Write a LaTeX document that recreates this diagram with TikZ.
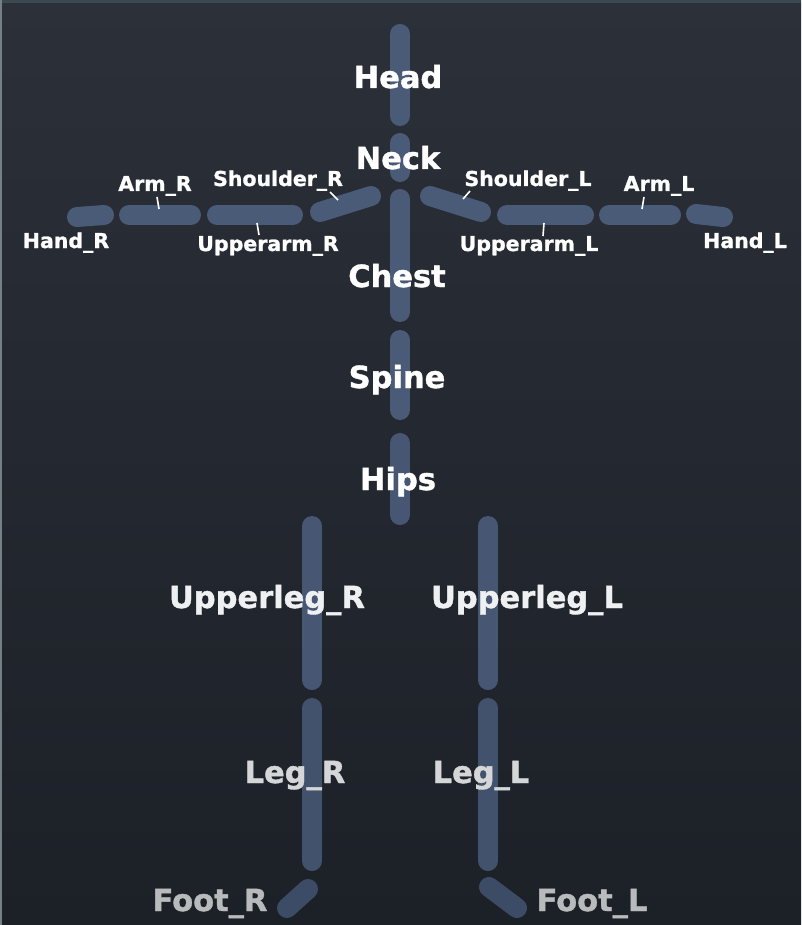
\documentclass[tikz,border=0pt]{standalone}
\usepackage{fontspec}
\setmainfont{DejaVu Sans}[BoldFeatures={FakeBold=1.2}]
\definecolor{bgtop}{HTML}{2B3039}
\definecolor{bgbot}{HTML}{1C2027}
\definecolor{boneA}{HTML}{4A5B78}
\definecolor{boneB}{HTML}{465673}
\definecolor{boneC}{HTML}{42526D}
\definecolor{boneD}{HTML}{3D4C66}
\definecolor{txtA}{HTML}{FFFFFF}
\definecolor{txtB}{HTML}{EEF0F2}
\definecolor{txtC}{HTML}{D4D6D8}
\definecolor{txtD}{HTML}{B8BABC}
\definecolor{edge}{HTML}{3A4A50}
\tikzset{
  bone/.style={line width=20pt, line cap=round, draw=#1},
  bone/.default=boneA,
  biglab/.style={inner sep=0pt, anchor=base, text=#1, font=\bfseries\fontsize{30.5}{30.5}\selectfont},
  biglab/.default=txtA,
  smalllab/.style={inner sep=0pt, anchor=base, text=txtA, font=\bfseries\fontsize{20.5}{20.5}\selectfont},
  leader/.style={draw=white, line width=1.6pt}
}
\begin{document}
\begin{tikzpicture}[x=1pt,y=-1pt]
\useasboundingbox (0,0) rectangle (801,925);
\shade[top color=bgtop, bottom color=bgbot] (0,0) rectangle (801,925);
\fill[edge] (0,0) rectangle (801,3);
\fill[edge!70!white] (0,0) rectangle (2,925);
% bone end points
\coordinate (headA) at (400,34); \coordinate (headB) at (400,116);
\coordinate (neckA) at (400,143); \coordinate (neckB) at (400,172);
\coordinate (chestA) at (400,199); \coordinate (chestB) at (400,312);
\coordinate (spineA) at (400,340); \coordinate (spineB) at (400,410);
\coordinate (hipsA) at (400,443); \coordinate (hipsB) at (400,515);
\coordinate (shRA) at (371,196); \coordinate (shRB) at (320,212);
\coordinate (uaRA) at (293,215); \coordinate (uaRB) at (217,215);
\coordinate (arRA) at (191,215); \coordinate (arRB) at (129,215);
\coordinate (haRA) at (104,215); \coordinate (haRB) at (77,217);
\coordinate (shLA) at (430,196); \coordinate (shLB) at (481,212);
\coordinate (uaLA) at (507,215); \coordinate (uaLB) at (584,215);
\coordinate (arLA) at (609,215); \coordinate (arLB) at (671,215);
\coordinate (haLA) at (696,214); \coordinate (haLB) at (723,217);
\coordinate (ulRA) at (312,526); \coordinate (ulRB) at (312,680);
\coordinate (lgRA) at (312,708); \coordinate (lgRB) at (312,861);
\coordinate (ftRA) at (308,889); \coordinate (ftRB) at (287,908);
\coordinate (ulLA) at (488,526); \coordinate (ulLB) at (488,680);
\coordinate (lgLA) at (488,708); \coordinate (lgLB) at (488,861);
\coordinate (ftLA) at (489,887); \coordinate (ftLB) at (517,908);
% bones
\draw[bone] (headA) -- (headB);
\draw[bone] (neckA) -- (neckB);
\draw[bone] (chestA) -- (chestB);
\draw[bone] (spineA) -- (spineB);
\draw[bone=boneB] (hipsA) -- (hipsB);
\draw[bone] (shRA) -- (shRB);
\draw[bone] (uaRA) -- (uaRB);
\draw[bone] (arRA) -- (arRB);
\draw[bone] (haRA) -- (haRB);
\draw[bone] (shLA) -- (shLB);
\draw[bone] (uaLA) -- (uaLB);
\draw[bone] (arLA) -- (arLB);
\draw[bone] (haLA) -- (haLB);
\draw[bone=boneB] (ulRA) -- (ulRB);
\draw[bone=boneC] (lgRA) -- (lgRB);
\draw[bone=boneD] (ftRA) -- (ftRB);
\draw[bone=boneB] (ulLA) -- (ulLB);
\draw[bone=boneC] (lgLA) -- (lgLB);
\draw[bone=boneD] (ftLA) -- (ftLB);
% leader lines
\coordinate (lArR1) at (157,197); \coordinate (lArR2) at (159,209);
\coordinate (lShR1) at (330,192); \coordinate (lShR2) at (338,200);
\coordinate (lUaR1) at (257,223); \coordinate (lUaR2) at (259,235);
\coordinate (lShL1) at (470,191); \coordinate (lShL2) at (463,199);
\coordinate (lArL1) at (644,197); \coordinate (lArL2) at (642,209);
\coordinate (lUaL1) at (544,223); \coordinate (lUaL2) at (543,236);
\draw[leader] (lArR1) -- (lArR2);
\draw[leader] (lShR1) -- (lShR2);
\draw[leader] (lUaR1) -- (lUaR2);
\draw[leader] (lShL1) -- (lShL2);
\draw[leader] (lArL1) -- (lArL2);
\draw[leader] (lUaL1) -- (lUaL2);
% big labels
\node[biglab] (head) at (398,88) {Head};
\node[biglab] (neck) at (398,169) {Neck};
\node[biglab] (chest) at (397,287) {Chest};
\node[biglab] (spine) at (397,388) {Spine};
\node[biglab] (hips) at (398,490) {Hips};
\node[biglab=txtB] (ulegR) at (267,608) {Upperleg\_R};
\node[biglab=txtB] (ulegL) at (527,608) {Upperleg\_L};
\node[biglab=txtC] (legR) at (295,783) {Leg\_R};
\node[biglab=txtC] (legL) at (481,783) {Leg\_L};
\node[biglab=txtD] (footR) at (210,911) {Foot\_R};
\node[biglab=txtD] (footL) at (592,911) {Foot\_L};
% small labels
\node[smalllab] (handR) at (66,248) {Hand\_R};
\node[smalllab] (armR) at (155,191) {Arm\_R};
\node[smalllab] (shoulderR) at (278,186) {Shoulder\_R};
\node[smalllab] (upperarmR) at (268,251) {Upperarm\_R};
\node[smalllab] (shoulderL) at (528,186) {Shoulder\_L};
\node[smalllab] (armL) at (659,191) {Arm\_L};
\node[smalllab] (upperarmL) at (529,251) {Upperarm\_L};
\node[smalllab] (handL) at (745,248) {Hand\_L};
\end{tikzpicture}
\end{document}
